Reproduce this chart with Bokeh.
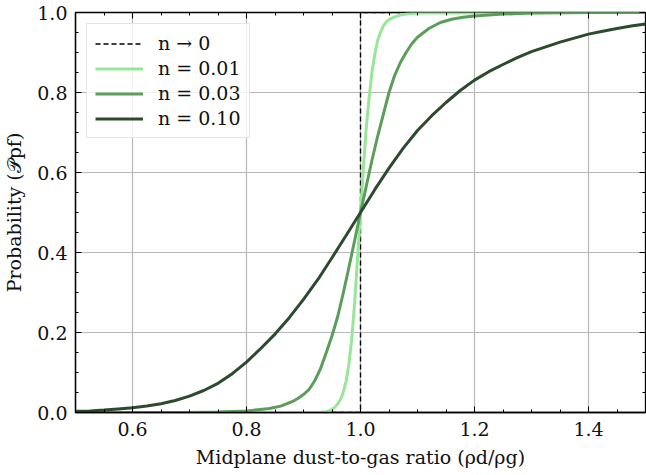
from bokeh.plotting import figure
from bokeh.models import FixedTicker, PrintfTickFormatter, LinearAxis, Range1d, Legend, LegendItem
from bokeh.embed import file_html
from bokeh.resources import INLINE

# ---- data ----
step_x = [0.5, 1.0, 1.0, 1.5]
step_y = [0.0, 0.0, 1.0, 1.0]

n001_x = [0.50, 0.90, 0.93, 0.94, 0.945, 0.95, 0.955, 0.96, 0.965, 0.97, 0.975, 0.98, 0.985,
          0.99, 0.995, 1.00, 1.005, 1.01, 1.015, 1.02, 1.025, 1.03, 1.035, 1.04, 1.045,
          1.05, 1.06, 1.07, 1.08, 1.10, 1.50]
n001_y = [0.000, 0.000, 0.0005, 0.002, 0.004, 0.008, 0.013, 0.021, 0.033, 0.052, 0.080, 0.125, 0.190,
          0.280, 0.390, 0.500, 0.610, 0.710, 0.785, 0.850, 0.895, 0.930, 0.950, 0.966, 0.976,
          0.982, 0.989, 0.9935, 0.996, 0.999, 1.000]

n003_x = [0.50, 0.70, 0.75, 0.80, 0.82, 0.84, 0.86, 0.88, 0.89, 0.90, 0.91, 0.92, 0.93, 0.94,
          0.95, 0.96, 0.97, 0.98, 0.99, 1.00, 1.01, 1.02, 1.03, 1.04, 1.05, 1.06, 1.07,
          1.08, 1.09, 1.10, 1.12, 1.14, 1.16, 1.18, 1.20, 1.25, 1.30, 1.40, 1.50]
n003_y = [0.000, 0.000, 0.001, 0.004, 0.007, 0.010, 0.016, 0.027, 0.035, 0.045, 0.058, 0.080, 0.110, 0.150,
          0.192, 0.240, 0.300, 0.365, 0.432, 0.500, 0.565, 0.630, 0.690, 0.745, 0.800, 0.843, 0.875,
          0.900, 0.922, 0.938, 0.960, 0.975, 0.983, 0.988, 0.991, 0.996, 0.999, 1.000, 1.000]

n010_x = [0.500, 0.525, 0.550, 0.575, 0.600, 0.625, 0.650, 0.675, 0.700, 0.725, 0.750, 0.775,
          0.800, 0.825, 0.850, 0.875, 0.900, 0.925, 0.950, 0.975, 1.000, 1.025, 1.050, 1.075,
          1.100, 1.125, 1.150, 1.175, 1.200, 1.225, 1.250, 1.275, 1.300, 1.325, 1.350, 1.375,
          1.400, 1.425, 1.450, 1.475, 1.500]
n010_y = [0.003, 0.004, 0.006, 0.009, 0.012, 0.016, 0.022, 0.030, 0.041, 0.055, 0.073, 0.097,
          0.126, 0.160, 0.196, 0.237, 0.283, 0.332, 0.387, 0.443, 0.500, 0.557, 0.611, 0.661,
          0.705, 0.742, 0.775, 0.805, 0.831, 0.852, 0.870, 0.887, 0.902, 0.914, 0.926, 0.936,
          0.946, 0.953, 0.960, 0.966, 0.971]

legend_labels = ["n \u2192 0", "n = 0.01", "n = 0.03", "n = 0.10"]
x_ticks = [0.6, 0.8, 1.0, 1.2, 1.4]
y_ticks = [0.0, 0.2, 0.4, 0.6, 0.8, 1.0]
minor_ticks = [round(0.05 * i, 2) for i in range(0, 31)]

c_light = "#98E698"
c_mid = "#5A9E5A"
c_dark = "#2C4A2D"
FONT = "DejaVu Serif"

p = figure(width=646, height=475, output_backend="svg", toolbar_location=None,
           x_range=Range1d(0.5, 1.5), y_range=Range1d(0.0, 1.0),
           min_border_left=74, min_border_right=1, min_border_top=12, min_border_bottom=63)
p.background_fill_color = "white"
p.border_fill_color = "white"
p.outline_line_color = "black"
p.outline_line_width = 1.3
p.outline_line_alpha = 1.0

xt = FixedTicker(ticks=x_ticks, minor_ticks=minor_ticks)
yt = FixedTicker(ticks=y_ticks, minor_ticks=minor_ticks)
p.xaxis.ticker = xt
p.yaxis.ticker = yt
p.xaxis.formatter = PrintfTickFormatter(format="%.1f")
p.yaxis.formatter = PrintfTickFormatter(format="%.1f")

for ax in (p.xaxis[0], p.yaxis[0]):
    ax.major_tick_in = 6
    ax.major_tick_out = 0
    ax.minor_tick_in = 3
    ax.minor_tick_out = 0
    ax.major_tick_line_color = "black"
    ax.minor_tick_line_color = "black"
    ax.axis_line_color = "black"
    ax.axis_line_width = 1.3
    ax.major_label_text_font = FONT
    ax.major_label_text_font_size = "19px"
    ax.major_label_text_color = "#111111"
    ax.axis_label_text_font = FONT
    ax.axis_label_text_font_size = "19px"
    ax.axis_label_text_font_style = "normal"
    ax.axis_label_text_color = "#111111"

p.xaxis.major_label_standoff = 9
p.yaxis.major_label_standoff = 8
p.xaxis.axis_label_standoff = 7
p.yaxis.axis_label_standoff = 9
p.xaxis.axis_label = "Midplane dust-to-gas ratio (\u03c1d/\u03c1g)"
p.yaxis.axis_label = "Probability (\U0001D4ABpf)"

for loc, tk in (("above", xt), ("right", yt)):
    ax = LinearAxis(ticker=tk)
    ax.major_label_text_font_size = "0px"
    ax.major_label_text_alpha = 0
    ax.major_label_standoff = 0
    ax.major_tick_in = 6
    ax.major_tick_out = 0
    ax.minor_tick_in = 3
    ax.minor_tick_out = 0
    ax.axis_line_color = None
    ax.major_tick_line_color = "black"
    ax.minor_tick_line_color = "black"
    p.add_layout(ax, loc)

p.xgrid.grid_line_color = "#b8b8b8"
p.ygrid.grid_line_color = "#b8b8b8"
p.xgrid.grid_line_width = 1.2
p.ygrid.grid_line_width = 1.2

r0 = p.line(step_x, step_y, line_color="black", line_width=1.4, line_dash="5 3")
r1 = p.line(n001_x, n001_y, line_color=c_light, line_width=3, line_join="round")
r2 = p.line(n003_x, n003_y, line_color=c_mid, line_width=3, line_join="round")
r3 = p.line(n010_x, n010_y, line_color=c_dark, line_width=3, line_join="round")

legend = Legend(items=[LegendItem(label=legend_labels[0], renderers=[r0]),
                       LegendItem(label=legend_labels[1], renderers=[r1]),
                       LegendItem(label=legend_labels[2], renderers=[r2]),
                       LegendItem(label=legend_labels[3], renderers=[r3])],
                location="top_left")
legend.margin = 11
legend.padding = 8
legend.spacing = 3
legend.glyph_width = 48
legend.glyph_height = 21
legend.label_height = 21
legend.label_standoff = 15
legend.label_text_font = FONT
legend.label_text_font_size = "19px"
legend.label_text_color = "#111111"
legend.border_line_color = "#cccccc"
legend.border_line_width = 1
legend.background_fill_color = "white"
legend.background_fill_alpha = 0.8
p.add_layout(legend, "center")

open("out.html", "w").write(file_html(p, INLINE))
